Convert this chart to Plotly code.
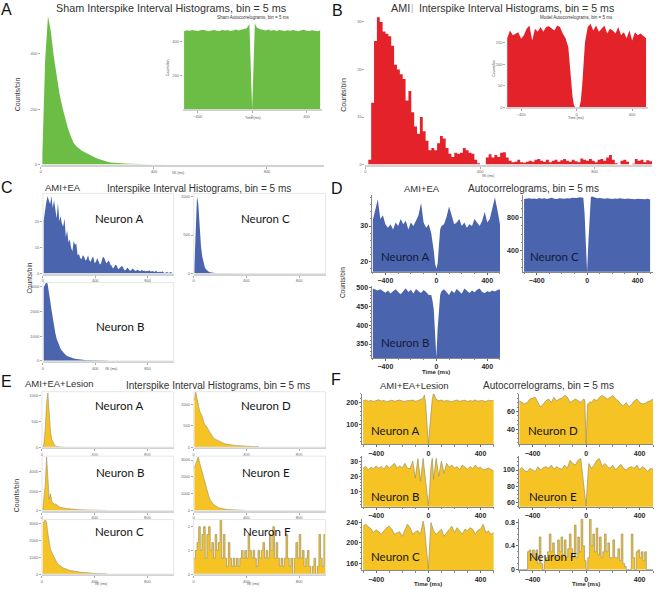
import plotly.graph_objects as go

W, H = 657, 592

# ======================= DATA =======================
ISI_BIN = 10.0      # ms per value in the ISI series
SPARSE_BIN = 12.5   # ms per value in the Neuron F series

# lags (ms) of the autocorrelogram series
ac_lags = list(range(-500, -39, 20)) + [-30, -20, -10, 0, 10, 20, 30] + list(range(40, 501, 20))

# --- A: Sham ---
sham_isi = [35, 380, 535, 480, 392, 320, 260, 210, 168, 133,
            104, 80, 66, 57, 50, 45, 39, 34, 29, 24,
            20, 16, 12, 10, 8, 6.5, 5.5, 5, 4.5, 4,
            3.5, 3, 3, 2.5, 2, 1.5, 1.5, 1, 1, 1,
            0.8, 1.5, 2, 1, 0.5, 0.3, 0.3, 0.2, 0.2, 0]
sham_ac = [462, 468, 465, 470, 466, 463, 468, 471, 466, 462, 467, 470, 465, 463, 469, 466, 470, 464, 467, 472, 466, 470, 474, 480,
           492, 505, 250, 0, 250, 510, 490,
           482, 474, 470, 467, 472, 465, 469, 464, 470, 466, 463, 468, 465, 470, 466, 462, 468, 471, 465, 463, 468, 466, 462, 467]

# --- B: AMI ---
ami_isi = [0, 1, 13, 26, 31, 30, 28, 27.5, 27, 25,
           21, 20, 19, 18, 13.5, 15.5, 11, 8, 6.5, 10,
           7, 5, 3, 3.5, 3, 4.5, 6, 5.5, 3.5, 2.3,
           1.6, 2.5, 2.3, 2.5, 3.5, 3, 2.5, 2.3, 1, 0.3,
           0, 0, 1.5, 2.2, 1.5, 2, 1.6, 2.5, 2.6, 1.5,
           0.8, 0.5, 0.6, 1, 0.5, 0.4, 0.6, 0.8, 0.6, 1,
           1.2, 0.8, 0.6, 1, 0.5, 0.8, 1, 0.6, 0.9, 1.2,
           0.8, 0.6, 1, 0.7, 0.5, 1.3, 1, 0.8, 1.2, 0.8,
           0.5, 1, 1.2, 0.8, 1.5, 2, 1, 0.3, 0, 0.8,
           1, 0.6, 0, 0.2, 1.2, 0.8, 1, 0.5, 0.9, 0.7]
ami_ac = [160, 178, 167, 171, 174, 159, 167, 182, 190, 155, 182, 175, 186, 175, 186, 188, 182, 178, 190, 186, 171, 160, 140, 60,
          25, 5, 0, 0, 0, 0, 15,
          50, 150, 186, 194, 178, 190, 175, 182, 190, 171, 182, 178, 171, 186, 167, 174, 160, 178, 155, 174, 167, 171, 165, 160]

# --- C: AMI+EA ISI ---
ea_isi_a = [20, 24, 27, 29.5, 28, 26.5, 29.5, 25, 28, 24,
            21, 27, 20, 22, 19, 18, 21, 14, 16.5, 12,
            13, 10, 8.5, 12.5, 11, 11.5, 7, 7.5, 6, 5.5,
            7, 6.5, 5, 5.5, 7, 5, 4.5, 6, 6.5, 4,
            4.5, 6, 5, 3.5, 4, 6, 6.5, 5, 4, 4.5,
            5, 3.5, 3, 2, 2.5, 3.5, 3, 1.7, 2, 2.5,
            3, 2, 1.2, 1.5, 2.4, 1.8, 1.1, 1.3, 2, 1.6,
            1, 1.2, 1.5, 1.1, 0.9, 1.5, 1, 1.2, 0.8, 1.1,
            0.9, 1.3, 0.7, 1, 0.8, 0.6, 1.2, 0.6, 0.5, 0.8,
            0.5, 0.9, 0.4, 0.3, 0.6, 0.4, 0.3, 0.6, 0.5, 0.2]
ea_isi_c = [80, 600, 1000, 900, 560, 360, 220, 130, 80, 55,
            35, 25, 18, 14, 11, 9, 7, 6, 5, 4,
            3.5, 3, 3, 2.5, 2, 2, 1.5, 1.5, 1, 1]
ea_isi_b = [2950, 3100, 3180, 3120, 2850, 2450, 2080, 1700, 1380, 1120,
            900, 740, 600, 490, 410, 340, 280, 235, 200, 175,
            150, 130, 115, 100, 88, 78, 68, 60, 52, 45,
            40, 35, 30, 27, 24, 21, 19, 17, 15, 13,
            12, 11, 10, 9, 8, 7, 6, 6, 5, 5]

# --- D: AMI+EA autocorrelograms ---
ea_ac_a = [31.5, 35, 37.5, 32, 33, 30.5, 29.5, 30.5, 29, 31, 30, 32, 30.5, 31.5, 29, 31, 30, 31.5, 33, 36.5, 31, 29.5, 30.5, 28,
           26, 23, 19.5, 18, 19.5, 25, 29,
           30, 30.5, 32.5, 35.5, 33, 30.5, 31, 32, 30, 31, 29.5, 30.5, 30, 32, 31, 30, 31.5, 34, 31, 32, 35, 38, 34.5, 30.5]
ea_ac_c = [1015, 1020, 1025, 1018, 1022, 1015, 1028, 1020, 1024, 1017, 1022, 1030, 1020, 1015, 1025, 1020, 1018, 1026, 1022, 1030, 1025, 1028, 1035, 1030,
           1030, 850, 500, 150, 500, 850, 1040,
           1045, 1030, 1025, 1028, 1022, 1018, 1025, 1020, 1015, 1022, 1018, 1025, 1020, 1015, 1022, 1017, 1020, 1012, 1018, 1015, 1020, 1012, 1018, 1010]
ea_ac_b = [497, 494, 492, 495, 490, 486, 492, 484, 490, 495, 488, 482, 490, 498, 488, 494, 484, 496, 490, 485, 493, 488, 480, 480,
           465, 440, 380, 315, 390, 450, 480,
           490, 495, 488, 480, 492, 485, 496, 488, 483, 497, 490, 485, 492, 487, 494, 497, 488, 485, 490, 488, 492, 489, 493, 495]

# --- E: AMI+EA+Lesion ISI ---
les_isi_a = [0, 60, 350, 850, 1050, 600, 300, 150, 80, 40, 20, 10, 5, 3, 2, 1, 0]
les_isi_d = [1100, 1300, 1150, 960, 850, 780, 720, 600, 520, 500,
             430, 390, 340, 270, 240, 200, 185, 160, 145, 125,
             115, 100, 90, 82, 75, 68, 60, 55, 50, 46,
             42, 40, 38, 35, 32, 30, 28, 26, 25, 24,
             22, 21, 20, 19, 18, 17, 16, 15, 15, 14]
les_isi_b = [0, 1500, 2600, 5600, 3000, 1200, 1750, 900, 800, 650,
             700, 520, 450, 380, 330, 300, 270, 240, 220, 200,
             185, 170, 155, 140, 130, 120, 110, 100, 92, 85,
             78, 72, 66, 60, 55, 50, 46, 42, 38, 35,
             32, 30, 28, 26, 24, 22, 20, 18, 16, 15]
les_isi_e = [2550, 2750, 2950, 3200, 2850, 2550, 2250, 1950, 1620, 1330,
             1080, 850, 650, 520, 430, 350, 280, 230, 190, 160,
             135, 115, 100, 88, 78, 70, 62, 55, 50, 45,
             40, 36, 33, 30, 27, 24, 21, 19, 17, 15]
les_isi_c = [3100, 3050, 3250, 3080, 2400, 1850, 1480, 1280, 1100, 920,
             780, 660, 570, 500, 450, 400, 360, 320, 290, 260,
             235, 215, 195, 180, 170, 160, 150, 135, 120, 110,
             100, 92, 85, 80, 75, 68, 60, 55, 50, 45,
             40, 36, 32, 28, 25, 22, 20, 18, 16, 14]
les_isi_f = [0.67, 1.0, 1.33, 2.0, 1.0, 1.67, 2.0, 0.67, 1.67, 2.0,
             1.0, 1.33, 0.67, 1.67, 1.0, 1.33, 2.33, 0.67, 1.67, 0.67,
             0.33, 1.33, 0.67, 0.33, 0.67, 0.33, 0.67, 0.33, 0.67, 1.0,
             0.67, 1.0, 0.67, 1.67, 1.0, 0.67, 1.0, 0.67, 0.33, 1.0,
             0.67, 1.0, 1.33, 0.67, 1.0, 0.67, 1.67, 1.0, 2.0, 0.67,
             1.33, 0.67, 0.33, 0.67, 0.33, 0.67, 1.67, 0.67, 0.33, 0.67,
             0.0, 0.67, 1.33, 0.67, 1.67, 0.67, 1.0, 0.33, 0.67, 1.0,
             0.33, 0.0, 0.33, 0.67, 0.0, 0.33, 1.67, 0.67, 0.33, 1.67,
             0.33]

# --- F: AMI+EA+Lesion autocorrelograms ---
les_ac_a = [208, 212, 206, 210, 205, 209, 213, 207, 210, 204, 208, 211, 206, 209, 212, 207, 205, 210, 208, 212, 206, 209, 214, 220,
            235, 190, 100, 5, 80, 170, 215,
            243, 215, 208, 212, 206, 210, 207, 204, 209, 212, 206, 208, 211, 205, 209, 207, 212, 206, 210, 208, 205, 211, 208, 210]
les_ac_d = [72, 70, 68.5, 70, 74, 75, 76, 70, 65, 68.5, 72, 74, 70, 76, 72, 74, 75, 78, 76, 70, 72, 74, 72, 70,
            72, 74, 73, 23, 68, 70, 71,
            70, 74, 72, 76, 78, 76, 74, 76, 78, 74, 72, 68, 66.5, 70, 65, 68, 72, 74, 70, 68.5, 69, 71, 72, 74]
les_ac_b = [25.3, 26.4, 24.3, 26, 25, 26.8, 25.3, 26.4, 24.7, 27.4, 25.3, 26.8, 28.5, 25.3, 27, 25.5, 28.5, 25.3, 25, 30, 19, 31.5, 17, 31.7,
            24, 15.7, 6, 1, 12, 26, 31.7,
            18, 31.7, 20, 30, 22, 28.5, 26, 27.4, 25.3, 26.4, 24.3, 27.4, 26, 24.7, 26.4, 25, 27.4, 25.3, 26, 24.3, 24.7, 25.5, 24.5, 23.6]
les_ac_e = [100, 103, 99, 98, 102, 100, 98, 104, 100, 103, 104, 102, 106, 101, 104, 102, 101, 106, 102, 112, 108, 106, 112, 114,
            100, 85, 70, 56, 85, 108, 105,
            102, 106, 112, 114, 104, 108, 104, 102, 106, 100, 104, 107, 102, 100, 103, 104, 102, 106, 100, 104, 102, 98, 102, 101]
les_ac_c = [233, 237, 232, 228, 220, 226, 222, 217, 224, 230, 233, 227, 217, 220, 222, 213, 225, 237, 230, 217, 222, 224, 217, 243,
            230, 200, 165, 148, 195, 240, 232,
            224, 217, 222, 227, 213, 220, 227, 233, 220, 230, 224, 217, 227, 224, 230, 227, 217, 225, 227, 237, 220, 224, 217, 220]
les_ac_f = [0, 0, 0, 0, 0, 0.3, 0.33, 0.2, 0.33, 0.2,
            0.33, 0.1, 0.55, 0.1, 0, 0.15, 0.2, 0.3, 0.6, 0.3,
            0.45, 0.25, 0.2, 0.5, 0.3, 0.55, 0.25, 0.5, 0.2, 0.35,
            0.6, 0.35, 0.2, 0.75, 0.2, 0.55, 0.3, 0.85, 0.4, 0.15,
            0, 0.2, 0.85, 0.4, 0.6, 0.3, 0.7, 0.25, 0.55, 0.2,
            0.3, 0.6, 0.3, 0.45, 0.2, 0.2, 0.5, 0.2, 0.2, 0.35,
            0.15, 0.6, 0.1, 0.05, 0, 0, 0, 0.6, 0.2, 0,
            0.3, 0.33, 0.2, 0.3, 0.15, 0.3, 0, 0, 0, 0,
            0]

ISI_TICKS = [0, 400, 800]
AC_TICKS = [-400, 0, 400]

# ======================= STYLE =======================
GREEN = "#6cbd45"
RED = "#e3222a"
BLUE = "#4a64ad"
YELLOW = "#f6c324"
YEL_LINE = "#9c9064"


def isi_x(vals):
    return [ISI_BIN / 2 + ISI_BIN * i for i in range(len(vals))]


def step_x(vals, start, width):
    return [start + width * i for i in range(len(vals))]


fig = go.Figure()
layout = {}
shapes = []
count = [0]


def add_panel(x, y, xpx, ypx, xr, yr, xt, yt, fill, line="rgba(0,0,0,0)", lw=0,
              shape="linear", style="tiny", frame=False, yminor=None):
    count[0] += 1
    n = count[0]
    xa, ya = f"x{n}", f"y{n}"
    fig.add_trace(go.Scatter(x=x, y=y, xaxis=xa, yaxis=ya, mode="lines", fill="tozeroy",
                             fillcolor=fill, line=dict(color=line, width=lw, shape=shape),
                             hoverinfo="skip", showlegend=False))
    xd = [xpx[0] / W, xpx[1] / W]
    yd = [1 - ypx[1] / H, 1 - ypx[0] / H]
    if style == "tiny":
        tf = dict(size=4, color="#666666", family="Liberation Sans")
        common = dict(ticks="outside", ticklen=2, tickcolor="#aaaaaa", tickwidth=1,
                      showgrid=False, zeroline=False, tickfont=tf, ticklabelstandoff=0)
        xs = dict(showline=True, linecolor="#d2d2d2", linewidth=2)
        ys = dict(showline=False)
        xm, ym = {}, {}
    else:
        tf = dict(size=7, color="#2a2a2a", family="Liberation Sans", weight="bold")
        common = dict(ticks="outside", ticklen=2, tickcolor="#666666", tickwidth=1,
                      showgrid=False, zeroline=False, tickfont=tf, ticklabelstandoff=0)
        xs = dict(showline=True, linecolor="#888888", linewidth=1)
        ys = dict(showline=True, linecolor="#888888", linewidth=1)
        xm = dict(minor=dict(ticks="outside", ticklen=1.5, tickcolor="#888888", dtick=100, tick0=0))
        ym = dict(minor=dict(ticks="outside", ticklen=1.5, tickcolor="#888888", dtick=yminor)) if yminor else {}
    layout[f"xaxis{n}"] = dict(domain=xd, range=xr, anchor=ya, tickmode="array", tickvals=xt,
                               fixedrange=True, **common, **xs, **xm)
    layout[f"yaxis{n}"] = dict(domain=yd, range=yr, anchor=xa, tickmode="array", tickvals=yt,
                               fixedrange=True, **common, **ys, **ym)
    if frame:
        shapes.append(dict(type="rect", xref=f"{xa} domain", yref=f"{ya} domain",
                           x0=0, x1=1, y0=0, y1=1, line=dict(color="#e6e6e6", width=1)))


# ---- A ----
add_panel(isi_x(sham_isi), sham_isi, (40, 323), (12, 164), [0, 1000], [0, 543], ISI_TICKS, [0, 200, 400], GREEN)
add_panel(ac_lags, sham_ac, (182, 321), (20, 108), [-510, 510], [0, 518], AC_TICKS, [200, 400], GREEN)
# ---- B ----
add_panel(step_x(ami_isi, 0, ISI_BIN) + [1000], ami_isi + [ami_isi[-1]], (365, 652), (12, 164),
          [0, 1000], [0, 31.7], ISI_TICKS, [0, 10, 20, 30], RED, shape="hv")
add_panel(ac_lags, ami_ac, (506, 648), (21, 106), [-507, 514], [0, 196], AC_TICKS, [0, 50, 100, 150], RED)
# ---- C ----
add_panel(isi_x(ea_isi_a), ea_isi_a, (42, 173), (193, 274), [0, 1000], [0, 30.6], ISI_TICKS, [0, 10, 20], BLUE, frame=True)
add_panel(isi_x(ea_isi_c), ea_isi_c, (193, 325), (193, 274), [0, 1000], [0, 1040], ISI_TICKS, [0, 500, 1000], BLUE, frame=True)
add_panel(isi_x(ea_isi_b), ea_isi_b, (42, 173), (283, 362), [0, 1000], [0, 3160], ISI_TICKS, [0, 1000, 2000, 3000], BLUE, frame=True)
# ---- D ----
add_panel(ac_lags, ea_ac_a, (372, 500), (195, 272), [-502, 502], [17.2, 38.6], AC_TICKS, [20, 30], BLUE, style="bold", yminor=2)
add_panel(ac_lags, ea_ac_c, (523, 653), (195, 272), [-507, 523], [153, 1059], AC_TICKS, [400, 800], BLUE, style="bold", yminor=100)
add_panel(ac_lags, ea_ac_b, (372, 500), (286, 359), [-502, 502], [313, 505], AC_TICKS, [350, 400, 450, 500], BLUE, style="bold", yminor=10)
# ---- E ----
add_panel(isi_x(les_isi_a), les_isi_a, (41, 173), (393, 449), [0, 1000], [0, 1077], ISI_TICKS, [0, 500, 1000], YELLOW, YEL_LINE, 0.6, frame=True)
add_panel(isi_x(les_isi_d), les_isi_d, (193, 325), (393, 449), [0, 1000], [0, 1300], ISI_TICKS, [0, 500, 1000], YELLOW, YEL_LINE, 0.6, frame=True)
add_panel(isi_x(les_isi_b), les_isi_b, (41, 173), (458, 513), [0, 1000], [0, 5640], ISI_TICKS, [0, 2000, 4000], YELLOW, YEL_LINE, 0.6, frame=True)
add_panel(isi_x(les_isi_e), les_isi_e, (193, 325), (458, 513), [0, 1000], [0, 3235], ISI_TICKS, [0, 1000, 2000, 3000], YELLOW, YEL_LINE, 0.6, frame=True)
add_panel(isi_x(les_isi_c), les_isi_c, (41, 173), (522, 577), [0, 1000], [0, 3235], ISI_TICKS, [0, 1000, 2000, 3000], YELLOW, YEL_LINE, 0.6, frame=True)
add_panel(step_x(les_isi_f, 0, SPARSE_BIN), les_isi_f, (193, 325), (522, 577), [0, 1000], [0, 2.3], ISI_TICKS, [0, 1, 2],
          YELLOW, YEL_LINE, 0.7, shape="hv", frame=True)
# ---- F ----
add_panel(ac_lags, les_ac_a, (362, 494), (395, 446), [-505, 505], [9, 241], AC_TICKS, [100, 200], YELLOW, YEL_LINE, 0.7, style="bold", yminor=20)
add_panel(ac_lags, les_ac_d, (519, 653), (395, 446), [-500, 500], [23.3, 80], AC_TICKS, [40, 60], YELLOW, YEL_LINE, 0.7, style="bold", yminor=5)
add_panel(ac_lags, les_ac_b, (362, 494), (458, 509), [-505, 505], [0.3, 33.2], AC_TICKS, [10, 20, 30], YELLOW, YEL_LINE, 0.7, style="bold", yminor=2)
add_panel(ac_lags, les_ac_e, (519, 653), (458, 509), [-500, 500], [55, 117], AC_TICKS, [60, 80, 100], YELLOW, YEL_LINE, 0.7, style="bold", yminor=5)
add_panel(ac_lags, les_ac_c, (362, 494), (521, 573), [-505, 505], [146, 248], AC_TICKS, [160, 200, 240], YELLOW, YEL_LINE, 0.7, style="bold", yminor=10)
add_panel(step_x(les_ac_f, -500, SPARSE_BIN), les_ac_f, (519, 653), (521, 573), [-500, 500], [-0.01, 0.86], AC_TICKS, [0, 0.4, 0.8],
          YELLOW, YEL_LINE, 0.7, shape="hv", style="bold", yminor=0.1)

# ======================= TEXT =======================
ann = []


def txt(s, x, y, size, color="#222222", family="Liberation Sans", angle=0, weight="normal", xanchor="center"):
    ann.append(dict(text=s, x=x / W, y=1 - y / H, xref="paper", yref="paper", showarrow=False,
                    xanchor=xanchor, yanchor="middle", textangle=angle,
                    font=dict(size=size, color=color, family=family, weight=weight)))


# panel letters
for s, x, y in [("A", 6, 8), ("B", 337, 9), ("C", 6, 187), ("D", 337, 188), ("E", 6, 383), ("F", 336, 381)]:
    txt(s, x, y, 16, "#111111")

# titles
txt("Sham Interspike Interval Histograms, bin = 5 ms", 171, 6, 10.8, "#333333")
txt("AMI", 400, 6, 10.8, "#333333")
txt("|", 412, 6, 9, "#aaaaaa")
txt("Interspike Interval Histograms, bin = 5 ms", 417, 6, 10.6, "#333333", xanchor="left")
txt("Sham Autocorrelograms, bin = 5 ms", 252, 16, 4.5, "#333333")
txt("Model Autocorrelograms, bin = 5 ms", 576, 16, 4.5, "#333333")
txt("AMI+EA", 62, 187, 9.5, "#333333")
txt("Interspike Interval Histograms, bin = 5 ms", 198, 188, 10, "#333333")
txt("AMI+EA", 422, 188, 9.5, "#333333")
txt("Autocorrelograms, bin = 5 ms", 533, 188, 10, "#333333")
txt("AMI+EA+Lesion", 59, 385, 9.5, "#333333")
txt("Interspike Interval Histograms, bin = 5 ms", 217, 387, 10, "#333333")
txt("AMI+EA+Lesion", 414, 387, 9.5, "#333333")
txt("Autocorrelograms, bin = 5 ms", 548, 387, 10, "#333333")

# axis titles
txt("Counts/bin", 16, 93, 7, "#333333", angle=-90)
txt("Counts/bin", 343, 93, 7, "#333333", angle=-90)
txt("Counts/bin", 168, 66, 3.5, "#444444", angle=-90)
txt("Counts/bin", 494, 67, 3.5, "#444444", angle=-90)
txt("Counts/bin", 29, 278, 6.5, "#333333", angle=-90)
txt("Counts/bin", 342, 283, 6.5, "#333333", angle=-90)
txt("Counts/bin", 15.5, 497, 7, "#333333", angle=-90)
txt("ISI (ms)", 177, 172, 3.5, "#555555")
txt("ISI (ms)", 488, 175, 3.5, "#555555")
txt("Time (ms)", 252, 117, 3.5, "#555555")
txt("Time (ms)", 576, 117, 3.5, "#555555")
txt("ISI (ms)", 110, 370, 3.5, "#555555")
txt("ISI (ms)", 100, 587, 3.5, "#555555")
txt("ISI (ms)", 252, 587, 3.5, "#555555")
txt("Time (ms)", 436, 373, 6, "#2a2a2a", weight="bold")
txt("Time (ms)", 428, 587, 6, "#2a2a2a", weight="bold")
txt("Time (ms)", 586, 587, 6, "#2a2a2a", weight="bold")

# neuron labels
NF = "Lato"
for s, x, y in [("Neuron A", 119, 218), ("Neuron C", 265, 218), ("Neuron B", 119, 327),
                ("Neuron A", 119, 407), ("Neuron D", 265, 407), ("Neuron B", 119, 475),
                ("Neuron E", 265, 475), ("Neuron C", 119, 534), ("Neuron F", 266, 534),
                ("Neuron A", 395, 432), ("Neuron D", 553, 432), ("Neuron B", 395, 499),
                ("Neuron E", 553, 499), ("Neuron C", 395, 559), ("Neuron F", 553, 559)]:
    txt(s, x, y, 11.5, "#151515", family=NF)
for s, x, y in [("Neuron A", 405, 257), ("Neuron C", 554, 257), ("Neuron B", 405, 343)]:
    txt(s, x, y, 11.5, "#141a38", family=NF)

fig.update_layout(width=W, height=H, margin=dict(l=0, r=0, t=0, b=0),
                  paper_bgcolor="white", plot_bgcolor="white", showlegend=False,
                  annotations=ann, shapes=shapes, **layout)

fig.write_html("out.html", config={"displayModeBar": False},
               post_script="document.body.style.margin='0px';")
